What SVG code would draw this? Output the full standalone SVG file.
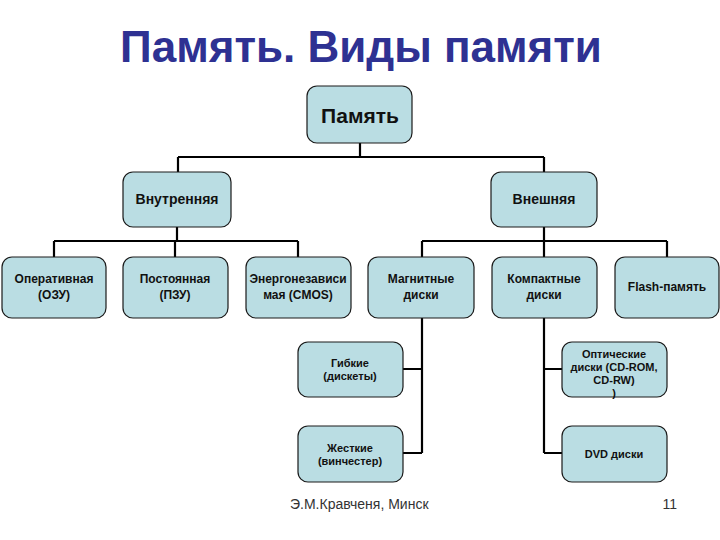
<svg xmlns="http://www.w3.org/2000/svg" width="720" height="540" viewBox="0 0 720 540">
<style>
.box{fill:#BADDE3;stroke:#1a1a1a;stroke-width:1.2}
.t{font-family:"Liberation Sans",Arial,sans-serif;font-weight:bold;fill:#111;text-anchor:middle}
.l1{font-size:14px}
.l2{font-size:12px}
.l3{font-size:11px}
.ln{fill:none;stroke:#000;stroke-width:2.2}
.ft{font-family:"Liberation Sans",Arial,sans-serif;font-size:14px;fill:#333}
</style>
<rect width="720" height="540" fill="#fff"/>
<text x="361" y="62" font-family="'Liberation Sans',Arial,sans-serif" font-weight="bold" font-size="44" fill="#2E3192" text-anchor="middle">Память. Виды памяти</text>
<g id="connectors">
<path class="ln" d="M360 143V157M178 157H544M178 157V172M544 157V172"/>
<path class="ln" d="M177 227V241M54 241H298M54 241V257M175 241V257M298 241V257"/>
<path class="ln" d="M544 227V241M422 241H667M422 241V257M544 241V257M667 241V257"/>
<path class="ln" d="M422 318V453M403 369H422M403 453H422"/>
<path class="ln" d="M544 318V453M544 369H562M544 453H562"/>
</g>
<g id="n-root"><rect class="box" x="307" y="86" width="105" height="57" rx="10"/><text class="t" x="360" y="123" font-size="21">Память</text></g>
<g id="n-int"><rect class="box" x="123" y="172" width="108" height="55" rx="10"/><text class="t l1" x="177" y="204">Внутренняя</text></g>
<g id="n-ext"><rect class="box" x="491" y="172" width="106" height="55" rx="10"/><text class="t l1" x="544" y="204">Внешняя</text></g>
<g id="n-ram"><rect class="box" x="2" y="257" width="104" height="61" rx="10"/><text class="t l2" x="54" y="283">Оперативная<tspan x="54" dy="16">(ОЗУ)</tspan></text></g>
<g id="n-rom"><rect class="box" x="123" y="257" width="105" height="61" rx="10"/><text class="t l2" x="175" y="283">Постоянная<tspan x="175" dy="16">(ПЗУ)</tspan></text></g>
<g id="n-cmos"><rect class="box" x="246" y="257" width="105" height="61" rx="10"/><text class="t l2" x="298" y="283">Энергонезависи<tspan x="298" dy="16">мая (CMOS)</tspan></text></g>
<g id="n-mag"><rect class="box" x="368" y="257" width="106" height="61" rx="10"/><text class="t l2" x="421" y="283">Магнитные<tspan x="421" dy="16">диски</tspan></text></g>
<g id="n-comp"><rect class="box" x="492" y="257" width="105" height="61" rx="10"/><text class="t l2" x="544" y="283">Компактные<tspan x="544" dy="16">диски</tspan></text></g>
<g id="n-flash"><rect class="box" x="615" y="257" width="104" height="61" rx="10"/><text class="t l2" x="667" y="291">Flash-память</text></g>
<g id="n-floppy"><rect class="box" x="298" y="342" width="105" height="55" rx="10"/><text class="t l3" x="350" y="367">Гибкие<tspan x="350" dy="13">(дискеты)</tspan></text></g>
<g id="n-hdd"><rect class="box" x="298" y="426" width="105" height="56" rx="10"/><text class="t l3" x="350" y="452">Жесткие<tspan x="350" dy="13">(винчестер)</tspan></text></g>
<g id="n-opt"><rect class="box" x="562" y="342" width="105" height="55" rx="10"/><text class="t l3" x="614" y="358">Оптические<tspan x="614" dy="13">диски (CD-ROM,</tspan><tspan x="614" dy="13">CD-RW)</tspan><tspan x="614" dy="13">)</tspan></text></g>
<g id="n-dvd"><rect class="box" x="562" y="426" width="105" height="56" rx="10"/><text class="t l3" x="614" y="458">DVD диски</text></g>
<text class="ft" x="290" y="509">Э.М.Кравченя, Минск</text>
<text class="ft" x="677" y="509" font-size="15" text-anchor="end">11</text>
</svg>
